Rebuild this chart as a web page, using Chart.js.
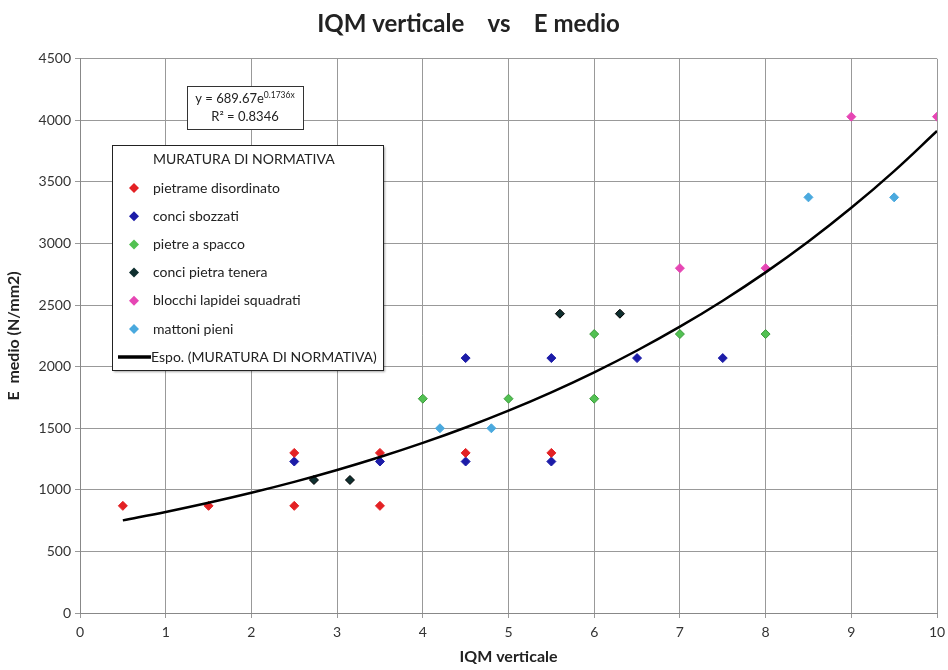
<!DOCTYPE html>
<html>
<head>
<meta charset="utf-8">
<script src="https://cdn.jsdelivr.net/npm/chart.js@4.4.1/dist/chart.umd.min.js"></script>
<style>
    html, body { margin: 0; padding: 0; background: #fff; }
    #wrap { width: 948px; height: 670px; }
</style>
</head>
<body>
<div id="wrap"><canvas id="scatterChart"></canvas></div>
<script>
// values
const pietrameX = [0.5, 1.5, 2.5, 2.5, 3.5, 3.5, 4.5, 5.5];
const pietrameY = [870, 870, 870, 1300, 1300, 870, 1300, 1300];
const sbozzatiX = [2.5, 3.5, 4.5, 4.5, 5.5, 5.5, 6.5, 7.5];
const sbozzatiY = [1230, 1230, 1230, 2070, 2070, 1230, 2070, 2070];
const spaccoX = [4, 5, 6, 6, 7, 8];
const spaccoY = [1740, 1740, 1740, 2265, 2265, 2265];
const teneraX = [2.73, 3.15, 5.6, 6.3];
const teneraY = [1080, 1080, 2430, 2430];
const squadratiX = [7, 8, 9, 10];
const squadratiY = [2800, 2800, 4030, 4030];
const mattoniX = [4.2, 4.8, 8.5, 9.5];
const mattoniY = [1500, 1500, 3375, 3375];

// trendline as printed on the chart
const trendA = 689.67;
const trendB = 0.1736;
const trendX = [0.5, 1, 1.5, 2, 2.5, 3, 3.5, 4, 4.5, 5, 5.5, 6, 6.5, 7, 7.5, 8, 8.5, 9, 9.5, 10];

const xTicks = [0, 1, 2, 3, 4, 5, 6, 7, 8, 9, 10];
const yTicks = [0, 500, 1000, 1500, 2000, 2500, 3000, 3500, 4000, 4500];

function pts(xs, ys) {
    return xs.map((x, i) => ({ x: x, y: ys[i] }));
}

function series(label, xs, ys, color, border) {
    return {
        label: label,
        data: pts(xs, ys),
        pointStyle: "rectRot",
        pointRadius: 4.5,
        pointHoverRadius: 4.5,
        backgroundColor: color,
        borderColor: border || color,
        borderWidth: 1
    };
}

const FONT = "Lato, 'Open Sans', sans-serif";

const legendBox = {
    id: "legendBox",
    afterDraw(chart) {
        const ctx = chart.ctx;
        ctx.save();
        // equation box
        ctx.fillStyle = "#fff";
        ctx.fillRect(187, 86, 116, 43);
        ctx.strokeStyle = "#333";
        ctx.lineWidth = 1;
        ctx.strokeRect(187.5, 86.5, 116, 43);
        ctx.fillStyle = "#222";
        ctx.textBaseline = "middle";
        const base = "y = " + trendA + "e";
        const sup = trendB + "x";
        ctx.font = "13px " + FONT;
        const w1 = ctx.measureText(base).width;
        ctx.font = "8.5px " + FONT;
        const w2 = ctx.measureText(sup).width;
        const sx = 245 - (w1 + w2) / 2;
        ctx.textAlign = "left";
        ctx.font = "13px " + FONT;
        ctx.fillText(base, sx, 99);
        ctx.font = "8.5px " + FONT;
        ctx.fillText(sup, sx + w1, 95);
        ctx.font = "13px " + FONT;
        ctx.textAlign = "center";
        ctx.fillText("R\u00b2 = 0.8346", 245, 117);

        // legend
        ctx.shadowColor = "rgba(0,0,0,0.35)";
        ctx.shadowOffsetX = 2;
        ctx.shadowOffsetY = 2;
        ctx.shadowBlur = 2;
        ctx.fillStyle = "#fff";
        ctx.fillRect(112, 145, 271, 225);
        ctx.shadowColor = "transparent";
        ctx.strokeStyle = "#222";
        ctx.strokeRect(112.5, 145.5, 271, 225);
        ctx.textAlign = "left";
        ctx.font = "14px " + FONT;
        ctx.fillStyle = "#222";
        ctx.fillText("MURATURA DI NORMATIVA", 153, 159);
        const ds = chart.data.datasets;
        for (let i = 0; i < 6; i++) {
            const y = 188 + i * 28.2;
            ctx.fillStyle = ds[i].backgroundColor;
            ctx.beginPath();
            ctx.moveTo(134, y - 5);
            ctx.lineTo(139, y);
            ctx.lineTo(134, y + 5);
            ctx.lineTo(129, y);
            ctx.closePath();
            ctx.fill();
            ctx.fillStyle = "#222";
            ctx.fillText(ds[i].label, 153, y);
        }
        ctx.strokeStyle = "#000";
        ctx.lineWidth = 3.5;
        ctx.beginPath();
        ctx.moveTo(118, 357);
        ctx.lineTo(151, 357);
        ctx.stroke();
        ctx.fillStyle = "#222";
        ctx.fillText(ds[6].label, 151, 357);
        ctx.restore();
    }
};

new Chart(document.getElementById("scatterChart"), {
    type: "scatter",
    data: {
        datasets: [
            series("pietrame disordinato", pietrameX, pietrameY, "#e32124"),
            series("conci sbozzati", sbozzatiX, sbozzatiY, "#1c1ca8"),
            series("pietre a spacco", spaccoX, spaccoY, "#52c152", "#3a9a3a"),
            series("conci pietra tenera", teneraX, teneraY, "#0f2f2f", "#000"),
            series("blocchi lapidei squadrati", squadratiX, squadratiY, "#e646b4"),
            series("mattoni pieni", mattoniX, mattoniY, "#4aa9de"),
            {
                label: "Espo. (MURATURA DI NORMATIVA)",
                data: trendX.map(x => ({ x: x, y: trendA * Math.exp(trendB * x) })),
                showLine: true,
                pointRadius: 0,
                borderColor: "#000",
                borderWidth: 2.5,
                tension: 0.4,
                order: -1
            }
        ]
    },
    options: {
        responsive: true,
        maintainAspectRatio: false,
        animation: false,
        layout: { padding: { top: 3, right: 11, left: 0, bottom: 0 } },
        plugins: {
            legend: { display: false },
            tooltip: { enabled: false },
            title: {
                display: true,
                text: "IQM verticale    vs    E medio",
                color: "#222",
                font: { family: FONT, size: 24, weight: "bold" },
                padding: { top: 7, bottom: 20 }
            }
        },
        scales: {
            x: {
                type: "linear",
                min: 0,
                max: 10,
                afterBuildTicks: s => { s.ticks = xTicks.map(v => ({ value: v })); },
                afterFit: s => { s.height = 57; s.paddingRight = 0; s.paddingLeft = 0; },
                grid: { color: "#999", tickLength: 5 },
                border: { color: "#888" },
                ticks: { color: "#333", font: { family: FONT, size: 14 }, padding: 6 },
                title: {
                    display: true,
                    text: "IQM verticale",
                    color: "#222",
                    font: { family: FONT, size: 16, weight: "bold" },
                    padding: { top: 2 }
                }
            },
            y: {
                min: 0,
                max: 4500,
                afterBuildTicks: s => { s.ticks = yTicks.map(v => ({ value: v })); },
                afterFit: s => { s.width = 80; },
                grid: { color: "#999", tickLength: 5 },
                border: { color: "#888" },
                ticks: {
                    color: "#333",
                    font: { family: FONT, size: 14 },
                    padding: 4,
                    callback: v => String(v)
                },
                title: {
                    display: true,
                    text: "E  medio (N/mm2)",
                    color: "#222",
                    font: { family: FONT, size: 16, weight: "bold" },
                    padding: { bottom: 2 }
                }
            }
        }
    },
    plugins: [legendBox]
});
</script>
</body>
</html>
